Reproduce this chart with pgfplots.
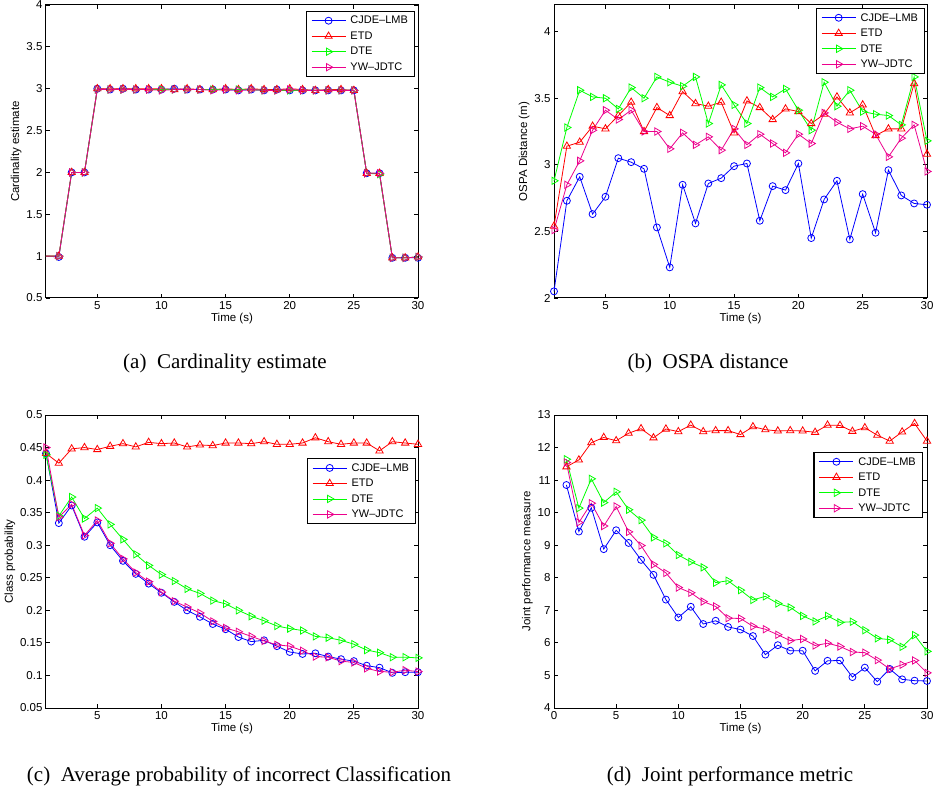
\documentclass[border=0pt]{standalone}
\usepackage{fontspec}
\setmainfont{Liberation Sans}
\newfontfamily\capfont{Liberation Serif}
\usepackage{pgfplots}
\usepackage{pgfplotstable}
\pgfplotsset{compat=1.18}

% (a) cardinality estimate
\pgfplotstableread{
t cjde etd dte yw
1 1.00 1.00 1.00 1.00
2 0.99 1.00 1.00 1.00
3 2.00 2.00 2.00 2.00
4 2.00 2.00 2.00 2.00
5 3.00 3.00 2.99 2.99
6 2.99 3.00 2.99 2.99
7 3.00 3.00 2.99 2.99
8 2.99 3.00 2.99 2.99
9 2.99 3.00 2.99 2.99
10 2.99 3.00 2.99 2.98
11 3.00 2.99 2.99 2.99
12 2.99 3.00 2.99 2.99
13 2.99 2.99 2.99 2.99
14 2.99 2.99 2.99 2.98
15 2.99 3.00 2.99 2.99
16 2.98 2.99 2.99 2.98
17 2.99 3.00 2.99 2.99
18 2.98 2.99 2.98 2.98
19 2.99 2.99 2.98 2.98
20 2.98 3.00 2.98 2.99
21 2.98 2.99 2.98 2.98
22 2.98 2.98 2.98 2.98
23 2.98 2.99 2.98 2.98
24 2.98 2.99 2.98 2.98
25 2.98 2.98 2.98 2.98
26 1.99 1.99 1.99 1.99
27 1.99 1.99 1.98 1.99
28 0.98 0.98 0.98 0.98
29 0.98 0.98 0.98 0.98
30 0.98 0.99 0.99 0.99
}\carddata

% (b) OSPA distance
\pgfplotstableread{
t cjde etd dte yw
1 2.05 2.54 2.88 2.51
2 2.73 3.14 3.28 2.85
3 2.91 3.17 3.56 3.03
4 2.63 3.29 3.51 3.26
5 2.76 3.27 3.50 3.41
6 3.05 3.37 3.42 3.34
7 3.02 3.47 3.58 3.41
8 2.97 3.25 3.50 3.25
9 2.53 3.43 3.66 3.25
10 2.23 3.37 3.62 3.12
11 2.85 3.55 3.59 3.24
12 2.56 3.46 3.66 3.15
13 2.86 3.44 3.31 3.21
14 2.90 3.47 3.60 3.11
15 2.99 3.24 3.45 3.27
16 3.01 3.48 3.31 3.15
17 2.58 3.43 3.58 3.23
18 2.84 3.34 3.51 3.16
19 2.81 3.42 3.57 3.09
20 3.01 3.40 3.41 3.23
21 2.45 3.31 3.26 3.16
22 2.74 3.38 3.62 3.39
23 2.88 3.51 3.44 3.32
24 2.44 3.39 3.56 3.27
25 2.78 3.45 3.40 3.29
26 2.49 3.22 3.38 3.23
27 2.96 3.27 3.37 3.06
28 2.77 3.27 3.30 3.20
29 2.71 3.61 3.66 3.30
30 2.70 3.08 3.18 2.95
}\ospadata

% (c) class probability
\pgfplotstableread{
t cjde etd dte yw
1 0.441 0.441 0.439 0.450
2 0.334 0.426 0.345 0.343
3 0.361 0.448 0.374 0.363
4 0.313 0.450 0.341 0.315
5 0.335 0.447 0.357 0.338
6 0.300 0.452 0.332 0.303
7 0.276 0.456 0.309 0.279
8 0.256 0.451 0.286 0.258
9 0.241 0.458 0.269 0.244
10 0.227 0.456 0.255 0.228
11 0.213 0.457 0.245 0.214
12 0.200 0.451 0.233 0.205
13 0.190 0.454 0.226 0.196
14 0.179 0.453 0.215 0.183
15 0.171 0.457 0.210 0.173
16 0.159 0.457 0.200 0.167
17 0.152 0.456 0.191 0.160
18 0.154 0.459 0.184 0.153
19 0.145 0.455 0.176 0.147
20 0.136 0.455 0.172 0.145
21 0.133 0.457 0.169 0.138
22 0.134 0.465 0.160 0.129
23 0.129 0.459 0.158 0.128
24 0.125 0.455 0.154 0.122
25 0.122 0.457 0.148 0.120
26 0.115 0.457 0.139 0.111
27 0.112 0.445 0.135 0.106
28 0.104 0.459 0.128 0.105
29 0.105 0.457 0.128 0.108
30 0.105 0.455 0.127 0.106
}\classdata

% (d) joint performance measure
\pgfplotstableread{
t cjde etd dte yw
1 10.85 11.41 11.64 11.54
2 9.42 11.62 10.14 9.70
3 10.15 12.15 11.04 10.29
4 8.88 12.31 10.31 9.59
5 9.46 12.21 10.64 10.19
6 9.07 12.44 10.09 9.41
7 8.55 12.58 9.77 8.99
8 8.09 12.30 9.24 8.41
9 7.33 12.57 9.06 8.15
10 6.78 12.49 8.70 7.70
11 7.11 12.69 8.49 7.54
12 6.58 12.49 8.32 7.27
13 6.68 12.52 7.85 7.12
14 6.49 12.52 7.91 6.76
15 6.41 12.40 7.62 6.75
16 6.21 12.64 7.32 6.51
17 5.64 12.55 7.43 6.42
18 5.93 12.51 7.21 6.25
19 5.76 12.52 7.09 6.07
20 5.76 12.51 6.83 6.12
21 5.14 12.47 6.66 5.92
22 5.45 12.69 6.83 5.99
23 5.46 12.68 6.63 5.89
24 4.95 12.50 6.65 5.72
25 5.24 12.61 6.39 5.70
26 4.81 12.38 6.14 5.47
27 5.20 12.20 6.10 5.20
28 4.88 12.48 5.88 5.33
29 4.84 12.74 6.24 5.46
30 4.83 12.20 5.74 5.08
}\jointdata

\pgfplotsset{
  mstyle/.style={
    scale only axis,
    width=372pt, height=293pt,
    tick align=inside,
    major tick length=4pt,
    axis line style={line width=1pt},
    every tick/.style={black, line width=0.8pt},
    every tick label/.append style={font=\fontsize{11.5}{13}\selectfont},
    every axis label/.append style={font=\fontsize{11.5}{13}\selectfont},
    xlabel={Time (s)},
    xlabel style={yshift=3pt},
    ylabel style={yshift=-2pt},
    legend cell align=left,
    legend style={draw=black, line width=1.2pt, fill=white,
      font=\fontsize{11}{13}\selectfont, inner xsep=5pt, inner ysep=1.5pt,
      nodes={inner sep=1.5pt, text height=9.5pt, text depth=3pt},
      /tikz/every odd column/.append style={column sep=3pt}},
    legend image code/.code={\draw[mark repeat=2,mark phase=2,##1] plot coordinates {(0pt,0pt) (17pt,0pt) (34pt,0pt)};},
  },
  s1/.style={blue, line width=0.8pt, mark=o, mark size=3.5pt, mark options={solid}},
  s2/.style={red, line width=0.8pt, mark=triangle, mark size=4.2pt, mark options={solid}},
  s3/.style={green, line width=0.8pt, mark=triangle, mark size=4.2pt, mark options={solid, rotate=-90}},
  s4/.style={magenta, line width=0.8pt, mark=triangle, mark size=4.2pt, mark options={solid, rotate=-90}},
}

\begin{document}
\begin{tikzpicture}
\useasboundingbox (0,-791pt) rectangle (934pt,0);

% (a)
\begin{axis}[mstyle, at={(46pt,-298pt)}, anchor=south west,
  xmin=1, xmax=30, ymin=0.5, ymax=4,
  xtick={5,10,15,20,25,30}, xticklabels={5,10,15,20,25,30},
  ytick={0.5,1,1.5,2,2.5,3,3.5,4}, yticklabels={0.5,1,1.5,2,2.5,3,3.5,4},
  ylabel={Cardinality estimate},
  legend style={at={(0.992,0.98)}, anchor=north east}]
\addlegendimage{s1}\addlegendentry{CJDE--LMB}
\addlegendimage{s2}\addlegendentry{ETD}
\addlegendimage{s3}\addlegendentry{DTE}
\addlegendimage{s4}\addlegendentry{YW--JDTC}
\addplot[s1, mark indices={2,...,30}, forget plot] table[x=t,y=cjde] {\carddata};
\addplot[s2, mark indices={2,...,30}, forget plot] table[x=t,y=etd] {\carddata};
\addplot[s3, mark indices={2,...,30}, forget plot] table[x=t,y=dte] {\carddata};
\addplot[s4, mark indices={2,...,30}, forget plot] table[x=t,y=yw] {\carddata};
\end{axis}

% (b)
\begin{axis}[mstyle, width=373pt, at={(554pt,-298pt)}, anchor=south west,
  clip=false,
  xmin=1, xmax=30, ymin=2, ymax=4.2,
  xtick={5,10,15,20,25,30}, xticklabels={5,10,15,20,25,30},
  ytick={2,2.5,3,3.5,4}, yticklabels={2,2.5,3,3.5,4},
  ylabel={OSPA Distance (m)},
  legend style={at={(0.995,0.99)}, anchor=north east}]
\addplot[s1] table[x=t,y=cjde] {\ospadata};
\addplot[s2] table[x=t,y=etd] {\ospadata};
\addplot[s3] table[x=t,y=dte] {\ospadata};
\addplot[s4] table[x=t,y=yw] {\ospadata};
\legend{CJDE--LMB,ETD,DTE,YW--JDTC}
\end{axis}

% (c)
\begin{axis}[mstyle, at={(46pt,-708pt)}, anchor=south west,
  clip=false,
  xmin=1, xmax=30, ymin=0.05, ymax=0.5,
  xtick={5,10,15,20,25,30}, xticklabels={5,10,15,20,25,30},
  ytick={0.05,0.1,0.15,0.2,0.25,0.3,0.35,0.4,0.45,0.5},
  yticklabels={0.05,0.1,0.15,0.2,0.25,0.3,0.35,0.4,0.45,0.5},
  ylabel={Class probability},
  legend style={at={(0.995,0.853)}, anchor=north east}]
\addplot[s1] table[x=t,y=cjde] {\classdata};
\addplot[s2] table[x=t,y=etd] {\classdata};
\addplot[s3] table[x=t,y=dte] {\classdata};
\addplot[s4] table[x=t,y=yw] {\classdata};
\legend{CJDE--LMB,ETD,DTE,YW--JDTC}
\end{axis}

% (d)
\begin{axis}[mstyle, width=373pt, at={(554pt,-708pt)}, anchor=south west,
  clip=false,
  xmin=0, xmax=30, ymin=4, ymax=13,
  xtick={0,5,10,15,20,25,30}, xticklabels={0,5,10,15,20,25,30},
  ytick={4,5,6,7,8,9,10,11,12,13}, yticklabels={4,5,6,7,8,9,10,11,12,13},
  ylabel={Joint performance measure},
  legend style={at={(0.989,0.874)}, anchor=north east}]
\addplot[s1] table[x=t,y=cjde] {\jointdata};
\addplot[s2] table[x=t,y=etd] {\jointdata};
\addplot[s3] table[x=t,y=dte] {\jointdata};
\addplot[s4] table[x=t,y=yw] {\jointdata};
\legend{CJDE--LMB,ETD,DTE,YW--JDTC}
\end{axis}

\begin{scope}[every node/.style={font=\capfont\fontsize{21}{24}\selectfont, anchor=base}]
\node at (225pt,-369pt) {(a)\ \ Cardinality estimate};
\node at (708pt,-369pt) {(b)\ \ OSPA distance};
\node at (239pt,-781pt) {(c)\ \ Average probability of incorrect Classification};
\node at (730pt,-781pt) {(d)\ \ Joint performance metric};
\end{scope}
\end{tikzpicture}
\end{document}
